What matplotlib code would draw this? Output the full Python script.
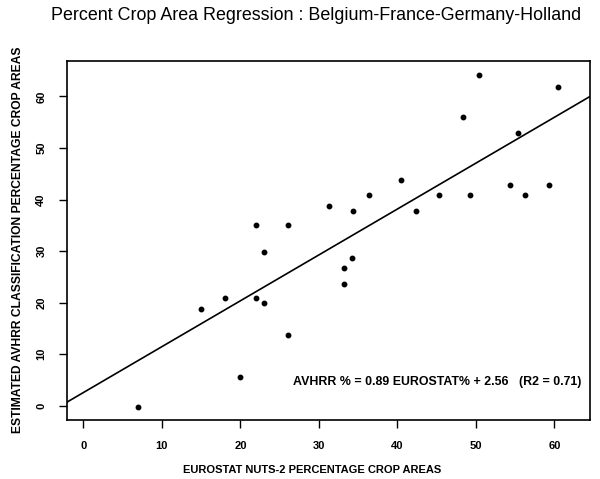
import matplotlib
matplotlib.use("Agg")
import matplotlib.pyplot as plt
import numpy as np

plt.rcParams['font.family'] = ['Liberation Sans', 'DejaVu Sans']

eurostat = [7, 15, 18, 20, 22, 22, 23, 23, 26, 26, 31.3, 33.2, 33.2, 34.2, 34.3,
            36.4, 40.4, 42.4, 45.3, 48.3, 49.3, 50.4, 54.3, 55.4, 56.3, 59.3, 60.4]
avhrr = [-0.3, 18.8, 20.9, 5.6, 20.9, 35.0, 19.9, 29.8, 13.8, 35.0, 38.8, 23.7, 26.7, 28.7, 37.7,
         40.8, 43.8, 37.7, 40.9, 56.0, 40.9, 64.1, 42.9, 52.9, 40.9, 42.9, 61.9]
slope = 0.89
intercept = 2.56
r2 = 0.71
xticks = [0, 10, 20, 30, 40, 50, 60]
yticks = [0, 10, 20, 30, 40, 50, 60]

title = "Percent Crop Area Regression : Belgium-France-Germany-Holland"
xlabel = "EUROSTAT NUTS-2 PERCENTAGE CROP AREAS"
ylabel = "ESTIMATED AVHRR CLASSIFICATION PERCENTAGE CROP AREAS"

fig = plt.figure(figsize=(6.0, 4.79), dpi=100)
ax = fig.add_axes([0.112, 0.123, 0.871, 0.750])

xlim = (-2.06, 64.5)
ylim = (-2.78, 66.9)
ax.set_xlim(*xlim)
ax.set_ylim(*ylim)

ax.plot(eurostat, avhrr, 'o', color='black', markersize=3.2, linestyle='none')
lx = np.array(xlim)
ax.plot(lx, slope * lx + intercept, color='black', linewidth=1.2)

ax.text(0.432, 0.106, f"AVHRR % = {slope:.2f} EUROSTAT% + {intercept:.2f}   (R2 = {r2:.2f})",
        transform=ax.transAxes, fontsize=8.9, fontweight='bold', ha='left', va='center')

ax.set_xticks(xticks)
ax.set_yticks(yticks)
ax.set_xticklabels([str(t) for t in xticks], fontsize=8, fontweight='bold')
ax.set_yticklabels([str(t) for t in yticks], fontsize=8, fontweight='bold',
                   rotation=90, va='center')
ax.tick_params(direction='out', length=6, width=1, pad=9)

for s in ax.spines.values():
    s.set_linewidth(1.2)

ax.set_xlabel(xlabel, fontsize=8.0, fontweight='bold')
ax.xaxis.set_label_coords(0.469, -0.125)
ax.set_ylabel(ylabel, fontsize=8.7, fontweight='bold')
ax.yaxis.set_label_coords(-0.082, 0.503)

fig.text(0.5275, 0.968, title, fontsize=12.9, ha='center', va='center')

fig.savefig("out.png", dpi=100)
